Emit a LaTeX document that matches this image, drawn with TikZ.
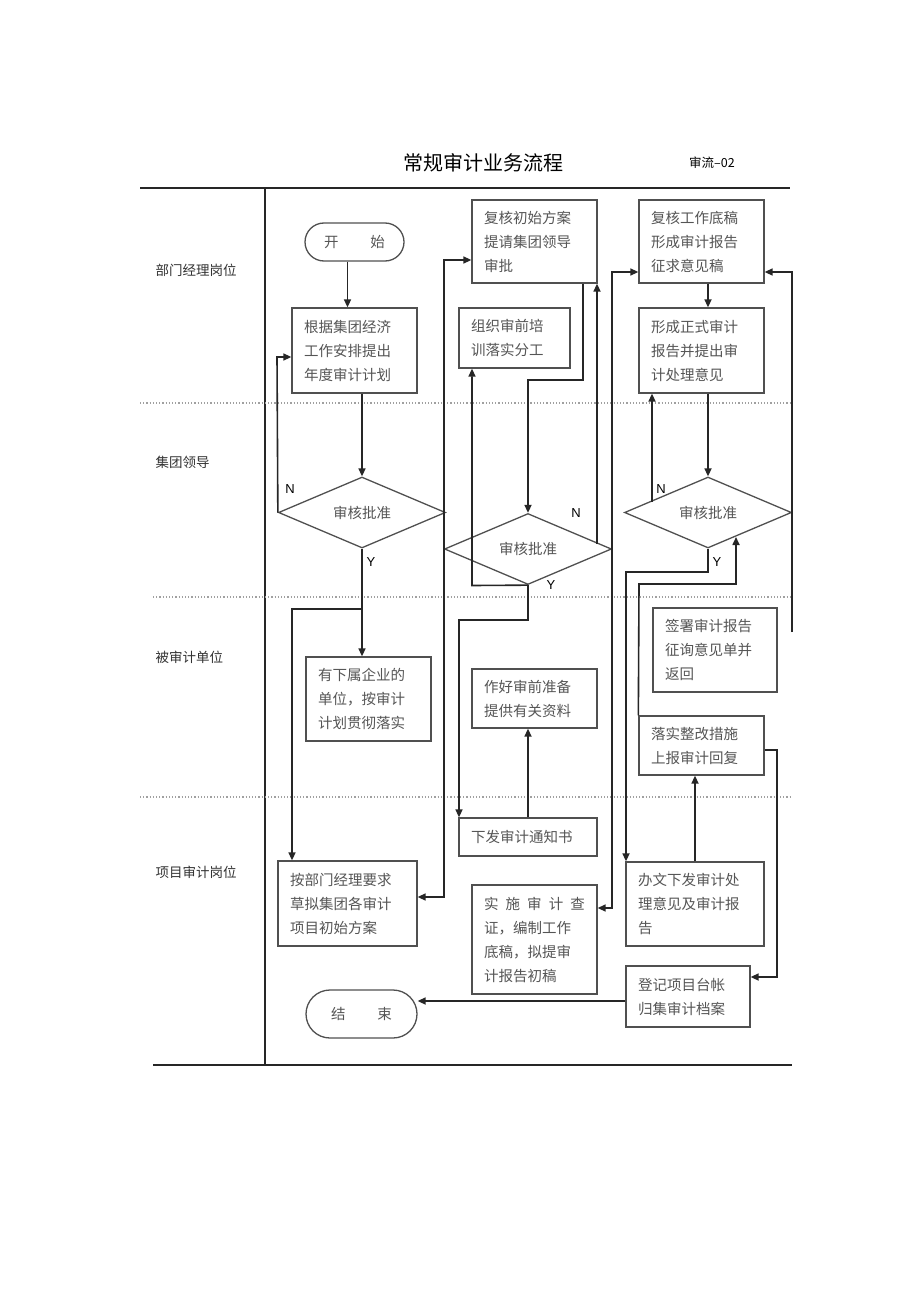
\documentclass[tikz,border=0pt]{standalone}
\usepackage{fontspec}
\setmainfont{Noto Sans CJK SC}
\newfontfamily\lat{Liberation Sans}
\usetikzlibrary{arrows.meta,shapes.geometric}
\definecolor{boxline}{HTML}{505050}
\definecolor{txt}{HTML}{555555}
\definecolor{conn}{HTML}{262626}
\definecolor{sep}{HTML}{A0A0A0}
\begin{document}
\begin{tikzpicture}[x=1pt,y=-1pt,
  box/.style={draw=boxline,line width=1.3pt,rectangle,inner xsep=12pt,inner ysep=0pt,
    align=left,text=txt,font=\fontsize{14.5}{24}\selectfont,anchor=center},
  term/.style={draw=boxline,line width=1.3pt,rectangle,inner sep=0pt,text=txt,
    font=\fontsize{14.5}{24}\selectfont,anchor=center},
  decide/.style={draw=boxline,line width=1.3pt,diamond,aspect=2.35,inner sep=0pt,
    minimum width=167pt,minimum height=71pt,text=txt,font=\fontsize{14.5}{24}\selectfont},
  lane/.style={anchor=west,text=black!80,font=\fontsize{13.5}{16}\selectfont},
  yn/.style={font=\lat\fontsize{13}{15}\selectfont,text=black},
  arr/.style={draw=conn,line width=1.6pt,-{Triangle[length=8pt,width=7pt]}},
  arrb/.style={draw=conn,line width=1.5pt,{Triangle[length=8pt,width=7pt]}-{Triangle[length=8pt,width=7pt]}},
  frame/.style={draw=black!85,line width=1.2pt},
  sepline/.style={draw=sep,line width=1.2pt,dotted}
]
\fill[white] (0,0) rectangle (920,1303);
\useasboundingbox (0,0) rectangle (920,1303);

% title
\node[font=\fontsize{20}{24}\selectfont,text=black] (title) at (483,163) {常规审计业务流程};
\node[font=\fontsize{12.5}{15}\selectfont,text=black] (code) at (712,163) {审流–02};

% frame
\draw[frame] (140,188) -- (790,188);
\draw[frame] (265,188) -- (265,1065);
\draw[frame] (153,1065) -- (792,1065);
\draw[sepline] (140,403) -- (792,403);
\draw[sepline] (153,597) -- (792,597);
\draw[sepline] (140,797) -- (792,797);

% lanes
\node[lane] (l1) at (152,270) {部门经理岗位};
\node[lane] (l2) at (152,462) {集团领导};
\node[lane] (l3) at (152,657) {被审计单位};
\node[lane] (l4) at (152,872) {项目审计岗位};

% nodes
\node[term,rounded corners=19pt,minimum width=99pt,minimum height=38pt] (S) at (354.5,242) {开\hspace{2.2em}始};
\node[box,text width=101pt,minimum height=85pt] (A) at (354.5,350.5) {根据集团经济\\工作安排提出\\年度审计计划};
\node[decide] (D1) at (362,512.5) {审核批准};
\node[box,text width=101pt,minimum height=84pt] (B) at (368.5,699) {有下属企业的\\单位，按审计\\计划贯彻落实};
\node[box,text width=115pt,minimum height=85pt] (G) at (347.5,903.5) {按部门经理要求\\草拟集团各审计\\项目初始方案};
\node[term,rounded corners=24pt,minimum width=111pt,minimum height=48pt] (Z) at (361.5,1014) {结\hspace{2.2em}束};

\node[box,text width=101pt,minimum height=83pt] (C) at (534.5,241.5) {复核初始方案\\提请集团领导\\审批};
\node[box,text width=87pt,minimum height=60pt] (D) at (514.5,338) {组织审前培\\训落实分工};
\node[decide] (D2) at (528,549) {审核批准};
\node[box,text width=101pt,minimum height=59pt] (H) at (534.5,698.5) {作好审前准备\\提供有关资料};
\node[box,text width=114pt,minimum height=38pt] (F) at (528,837) {下发审计通知书};
\node[box,text width=101pt,minimum height=109pt] (I) at (534.5,939.5) {\hbox to \linewidth{实\hfill 施\hfill 审\hfill 计\hfill 查}\\证，编制工作\\底稿，拟提审\\计报告初稿};

\node[box,text width=101pt,minimum height=83pt] (E) at (701.5,241.5) {复核工作底稿\\形成审计报告\\征求意见稿};
\node[box,text width=101pt,minimum height=85pt] (E2) at (701.5,350.5) {形成正式审计\\报告并提出审\\计处理意见};
\node[decide] (D3) at (708,512.5) {审核批准};
\node[box,text width=100pt,minimum height=84pt] (L) at (715,650) {签署审计报告\\征询意见单并\\返回};
\node[box,text width=101pt,minimum height=59pt] (K) at (701.5,745.5) {落实整改措施\\上报审计回复};
\node[box,text width=114pt,minimum height=84pt] (J) at (695,904) {办文下发审计处\\理意见及审计报\\告};
\node[box,text width=100pt,minimum height=61pt] (M) at (688,996.5) {登记项目台帐\\归集审计档案};

% Y/N labels
\node[yn] (n1l) at (290,489) {N};
\node[yn] (y1l) at (371,562) {Y};
\node[yn] (n2l) at (576,513) {N};
\node[yn] (y2l) at (551,585) {Y};
\node[yn] (n3l) at (661,489) {N};
\node[yn] (y3l) at (717,562) {Y};

% waypoints
\coordinate (na) at (277,357);
\coordinate (ya) at (362,609);
\coordinate (yb) at (292,609);
\coordinate (gc1) at (444,897);
\coordinate (gc2) at (444,260);
\coordinate (c3) at (583,380);
\coordinate (c4) at (528,380);
\coordinate (d1) at (472,585.5);
\coordinate (n2) at (597,543.5);
\coordinate (f1) at (528,620);
\coordinate (f2) at (459,620);
\coordinate (ie1) at (612,908);
\coordinate (ie2) at (612,272);
\coordinate (n3) at (652,501.5);
\coordinate (j1) at (708,572);
\coordinate (j2) at (626,572);
\coordinate (k1) at (639,584);
\coordinate (k2) at (736,584);
\coordinate (k3) at (736,537);
\coordinate (r1) at (792,632);
\coordinate (r2) at (792,272);
\coordinate (m1) at (777,750);
\coordinate (m2) at (777,977);
\coordinate (e1) at (626,1001);

% connectors
\draw[arr] ([xshift=-7pt]S.south) -- ([xshift=-7pt]A.north);
\draw[arr] (A.south -| D1.north) -- (D1.north);
\draw[arr] (D1.west) -- (na) -- (A.west |- na);
\draw[arr] (D1.south) -- (D1.south |- B.north);
\draw[arr] (ya) -- (yb) -- (yb |- G.north);
\draw[arrb] (G.east |- gc1) -- (gc1) -- (gc2) -- (C.west |- gc2);
\draw[arr] (C.south -| c3) -- (c3) -- (c4) -- (D2.north);
\draw[arr] (D2.south) -- (d1) -- (d1 |- D.south);
\draw[arr] (n2) -- (n2 |- C.south);
\draw[arr] (D2.south) -- (f1) -- (f2) -- (f2 |- F.north);
\draw[arr] (F.north) -- (F.north |- H.south);
\draw[arrb] (I.east |- ie1) -- (ie1) -- (ie2) -- (E.west |- ie2);
\draw[arr] (E.south -| D3.north) -- (E2.north -| D3.north);
\draw[arr] (E2.south -| D3.north) -- (D3.north);
\draw[arr] (n3) -- (n3 |- E2.south);
\draw[arr] (D3.south) -- (j1) -- (j2) -- (j2 |- J.north);
\draw[arr] (K.north west) -- (k1) -- (k2) -- (k3);
\draw[arr] (r1) -- (r2) -- (E.east |- r2);
\draw[arr] (J.north) -- (J.north |- K.south);
\draw[arr] (K.east |- m1) -- (m1) -- (m2) -- (M.east |- m2);
\draw[arr] (M.west |- e1) -- (Z.east |- e1);
\end{tikzpicture}
\end{document}
